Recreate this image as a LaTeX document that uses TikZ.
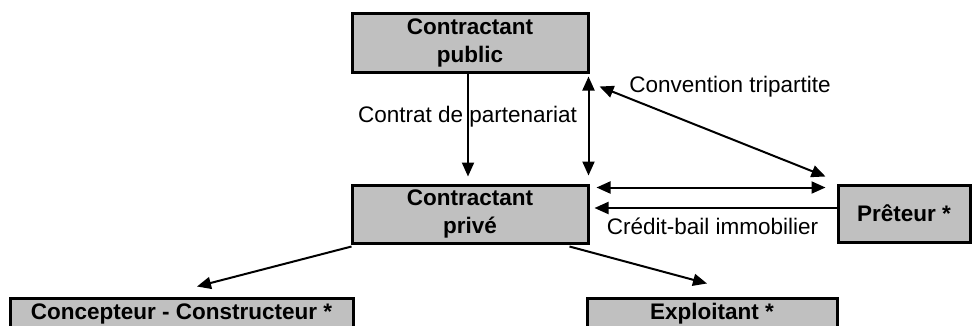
\documentclass[tikz,border=0pt]{standalone}
\usepackage{fontspec}
\setmainfont{Liberation Sans}
\usetikzlibrary{arrows.meta}
\definecolor{boxgray}{RGB}{192,192,192}
\begin{document}
\begin{tikzpicture}[x=1pt,y=-1pt,
  box/.style={draw=black,line width=3pt,fill=boxgray,inner sep=0pt,
    align=center,font=\fontsize{22.5}{28}\selectfont\bfseries},
  arr/.style={line width=2pt,-{Triangle[length=14pt,width=12pt]}},
  darr/.style={line width=2pt,{Triangle[length=14pt,width=12pt]}-{Triangle[length=14pt,width=12pt]}},
  lbl/.style={font=\fontsize{22.5}{28}\selectfont,inner sep=0pt,anchor=base}]
\useasboundingbox (0,0) rectangle (972,325);
\node[box,minimum width=236pt,minimum height=59pt] (pub) at (470,42.5) {Contractant\\public};
\node[box,minimum width=236pt,minimum height=58pt] (priv) at (470,214) {Contractant\\privé};
\node[box,minimum width=132pt,minimum height=57pt] (pret) at (904,213.5) {Prêteur *};
\node[box,minimum width=343pt,minimum height=31pt] (conc) at (181.5,313.5) {Concepteur - Constructeur *};
\node[box,minimum width=250pt,minimum height=31pt] (expl) at (712,313.5) {Exploitant *};
% labels
\node[lbl] (lc) at (467.5,122) {Contrat de partenariat};
\node[lbl] (lv) at (730,92) {Convention tripartite};
\node[lbl] (lb) at (712.5,234) {Crédit-bail immobilier};
% connectors
\draw[arr] ([xshift=-2pt]pub.south) -- ([xshift=-2pt,yshift=7pt]priv.north);
\draw[darr] ([xshift=-1pt,yshift=-3pt]pub.south east) -- ([xshift=-1pt,yshift=8pt]priv.north east);
\draw[darr] ([xshift=10pt,yshift=-13pt]pub.south east) -- ([xshift=-11pt,yshift=7pt]pret.north west);
\draw[darr] ([xshift=7pt,yshift=-4pt]priv.north east) -- ([xshift=-11pt,yshift=-4pt]pret.north west);
\coordinate (cb) at ([yshift=5.5pt]pret.west);
\draw[arr] (cb) -- ([xshift=5pt]priv.east |- cb);
\draw[arr] ([xshift=1pt,yshift=-2pt]priv.south west) -- ([xshift=15.5pt,yshift=10pt]conc.north);
\draw[arr] ([xshift=-20pt,yshift=-2pt]priv.south east) -- ([xshift=-5pt,yshift=13pt]expl.north);
\end{tikzpicture}
\end{document}
